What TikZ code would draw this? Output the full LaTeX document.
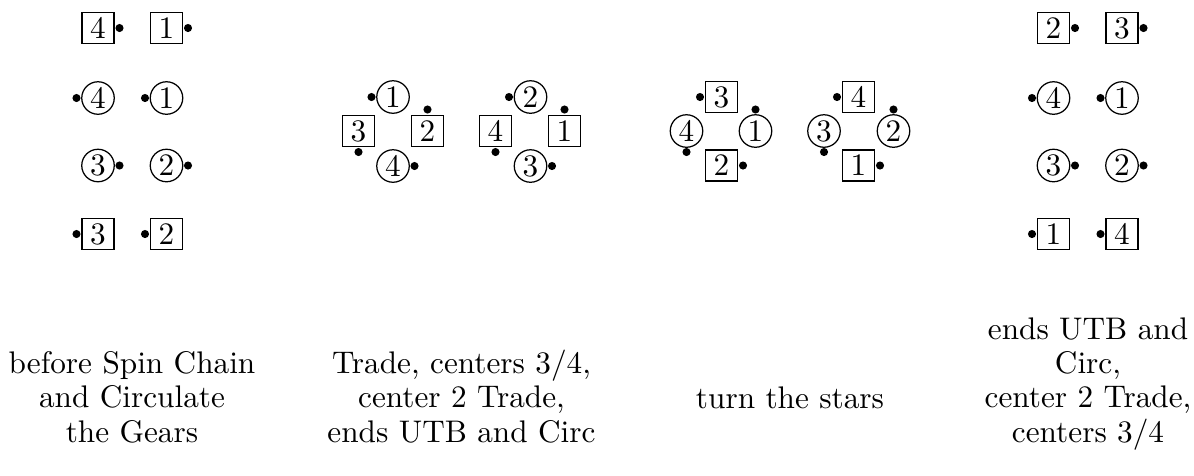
\documentclass[tikz,border=0pt]{standalone}
\usetikzlibrary{calc}
\tikzset{
  box/.style={draw, line width=0.4pt, minimum width=10.2pt, minimum height=9.9pt, inner sep=0pt},
  gear/.style={draw, line width=0.4pt, circle, minimum size=10.4pt, inner sep=0pt},
  dot/.style={circle, fill, inner sep=0pt, minimum size=2.6pt},
  lbl/.style={align=center, font=\fontsize{10}{10.9}\selectfont, inner sep=0pt}
}
\newcommand{\mkdancer}[5]{%
  \node[#2] (#1) at (#3) {#4};
  \node[dot] (#1d) at ($(#1)+(#5)$) {};
}
\begin{document}
\begin{tikzpicture}[x=0.32pt, y=-0.32pt]
\useasboundingbox (0,0) rectangle (1194,475);
% ---- panel 1
\mkdancer{aB4}{box}{98,28}{4}{21.5,0}
\mkdancer{aB1}{box}{166.5,28}{1}{21.5,0}
\mkdancer{aC4}{gear}{98,98}{4}{-21.5,0}
\mkdancer{aC1}{gear}{166.5,98}{1}{-21.5,0}
\mkdancer{aC3}{gear}{98,165.5}{3}{21.5,0}
\mkdancer{aC2}{gear}{166.5,165.5}{2}{21.5,0}
\mkdancer{aB3}{box}{98,234}{3}{-21.5,0}
\mkdancer{aB2}{box}{166.5,234}{2}{-21.5,0}
% ---- panel 2
\mkdancer{bC1}{gear}{393,97}{1}{-21.5,0}
\mkdancer{bB2}{box}{427.5,131}{2}{0,-21.5}
\mkdancer{bB3}{box}{358.5,131}{3}{0,21}
\mkdancer{bC4}{gear}{393,166}{4}{21.5,0}
\mkdancer{bC2}{gear}{530.5,97}{2}{-21.5,0}
\mkdancer{bB1}{box}{564.5,131}{1}{0,-21.5}
\mkdancer{bB4}{box}{495.5,131}{4}{0,21}
\mkdancer{bC3}{gear}{530.5,166}{3}{21.5,0}
% ---- panel 3
\mkdancer{cB3}{box}{721.5,97}{3}{-21.5,0}
\mkdancer{cC4}{gear}{686.5,131}{4}{0,21}
\mkdancer{cC1}{gear}{755.5,131}{1}{0,-21.5}
\mkdancer{cB2}{box}{721.5,165.5}{2}{21.5,0}
\mkdancer{cB4}{box}{858.5,97}{4}{-21.5,0}
\mkdancer{cC3}{gear}{824,131}{3}{0,21}
\mkdancer{cC2}{gear}{893.5,131}{2}{0,-21.5}
\mkdancer{cB1}{box}{858.5,165.5}{1}{21.5,0}
% ---- panel 4
\mkdancer{dB2}{box}{1053.5,28}{2}{21.5,0}
\mkdancer{dB3}{box}{1122,28}{3}{21.5,0}
\mkdancer{dC4}{gear}{1053.5,98}{4}{-21.5,0}
\mkdancer{dC1}{gear}{1122,98}{1}{-21.5,0}
\mkdancer{dC3}{gear}{1053.5,165.5}{3}{21.5,0}
\mkdancer{dC2}{gear}{1122,165.5}{2}{21.5,0}
\mkdancer{dB1}{box}{1053.5,234}{1}{-21.5,0}
\mkdancer{dB4}{box}{1122,234}{4}{-21.5,0}
% ---- labels (anchor = baseline of last line)
\node[lbl, anchor=base] (la) at (132,442) {before Spin Chain\\and Circulate\\the Gears};
\node[lbl, anchor=base] (lb) at (461.5,442) {Trade, centers 3/4,\\center 2 Trade,\\ends UTB and Circ};
\node[lbl, anchor=base] (lc) at (790,408) {turn the stars};
\node[lbl, anchor=base] (ld) at (1088,442) {ends UTB and\\Circ,\\center 2 Trade,\\centers 3/4};
\end{tikzpicture}
\end{document}
